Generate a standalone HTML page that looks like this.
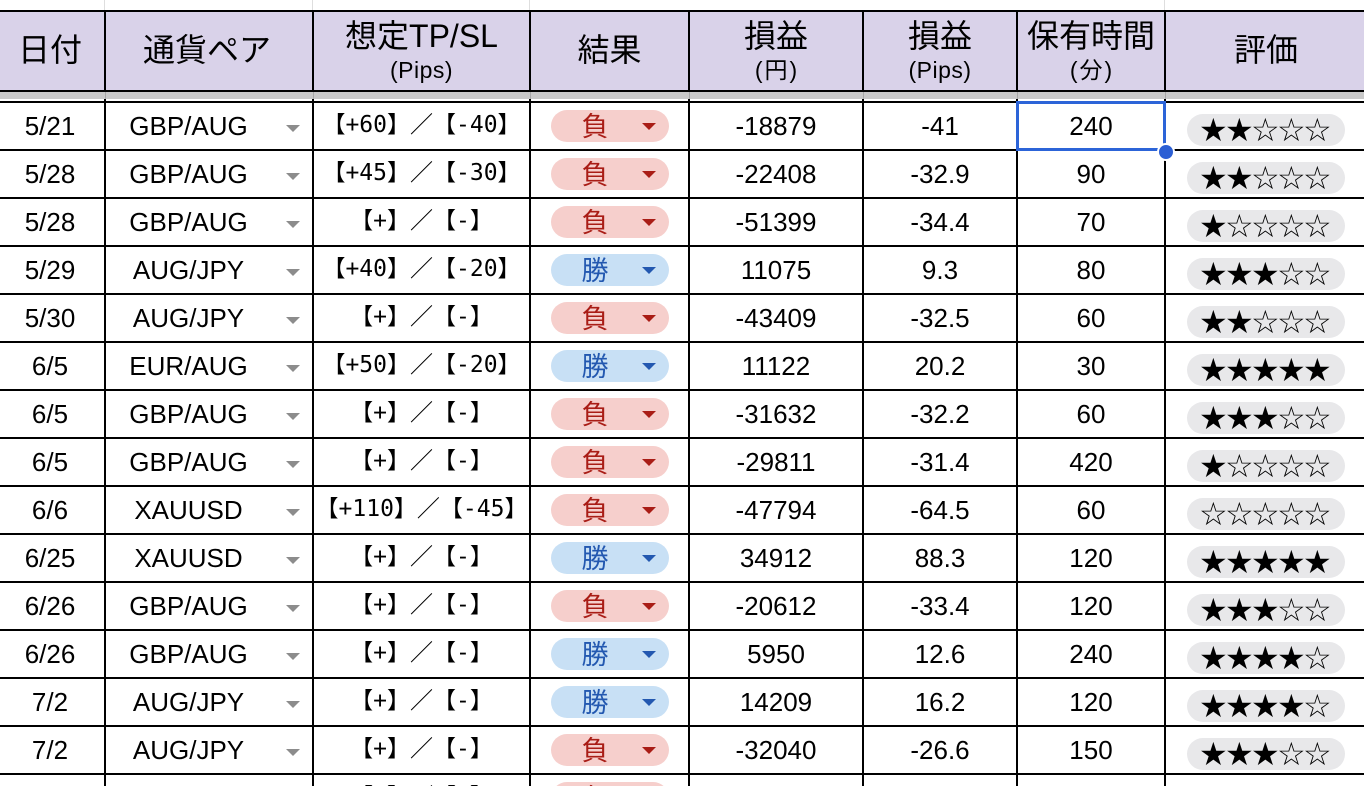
<!DOCTYPE html>
<html><head><meta charset="utf-8">
<style>
html,body{margin:0;padding:0;overflow:hidden;width:1364px;height:786px}
body{background:#fff;font-family:"Liberation Sans","Noto Sans CJK JP",sans-serif;color:#000}
#w{position:relative;width:1364px;height:786px;overflow:hidden;background:#fff}
.a{position:absolute}
.hd{left:0;top:12px;width:1364px;height:78px;background:#d9d2e9}
.hl{position:absolute;left:0;width:1364px;height:2px;background:#000}
.vl{position:absolute;width:2px;top:10px;height:776px;background:#000}
.gl{position:absolute;width:1px;top:0;height:10px;background:#dedede}
.band{position:absolute;left:0;top:92px;width:1364px;height:7px;background:#c9c9c9}
.bl{position:absolute;width:1px;top:92px;height:7px;background:#a8a8a8}
.h1{position:absolute;top:12px;height:78px;line-height:76px;font-size:32px;text-align:center;white-space:nowrap}
.t1{position:absolute;top:0;height:72px;line-height:73px;font-size:32px;text-align:center;white-space:nowrap}
.t2{position:absolute;top:50px;height:40px;line-height:40px;font-size:23px;text-align:center;white-space:nowrap}
.r{position:absolute;left:0;width:1364px;height:48px}
.c{position:absolute;top:0;height:48px;line-height:50px;font-size:26px;text-align:center;white-space:nowrap}
.dt{left:-5px;width:110px}
.cp{left:105px;width:167px}
.ar{position:absolute;left:286px;top:24px;width:0;height:0;border-left:7px solid transparent;border-right:7px solid transparent;border-top:7px solid #8c8c8c}
.tp{left:313px;width:217px;font-family:"DejaVu Sans Mono","Noto Sans CJK JP",monospace;font-size:23px;line-height:48px}
.pl{position:absolute;left:551px;top:9px;width:118px;height:32px;border-radius:16px}
.pl span{position:absolute;left:0;top:0;width:88px;text-align:center;font-family:"Noto Sans CJK JP",sans-serif;font-size:27px;line-height:30px;height:32px}
.pl b{position:absolute;left:91px;top:13px;width:0;height:0;border-left:7.5px solid transparent;border-right:7.5px solid transparent;border-top:7px solid currentColor}
.L{background:#f6cfcc;color:#a91d16}
.W{background:#c8e0f5;color:#2358b0}
.n1{left:689px;width:174px}
.n2{left:863px;width:154px}
.n3{left:1017px;width:148px}
.sp{position:absolute;left:1187px;top:13px;width:158px;height:32px;border-radius:16px;background:#e8e8ea}
.st{position:absolute;left:12px;top:0;white-space:nowrap;font-family:"DejaVu Sans",sans-serif;font-size:32px;line-height:33px;height:32px}
.st i{font-style:normal;display:inline-block;width:26px;text-align:center}
.sel{position:absolute;left:1016px;top:101px;width:150px;height:50px;box-sizing:border-box;border:3px solid #2c64d8}
.dot{position:absolute;left:1157px;top:142.5px;width:14px;height:14px;border-radius:50%;background:#2c5fd4;border:2px solid #fff}
</style></head><body><div id="w">

<div class="gl" style="left:104px"></div>
<div class="gl" style="left:312px"></div>
<div class="gl" style="left:529px"></div>
<div class="gl" style="left:1164px"></div>

<div class="a hd"></div>

<div class="vl" style="left:104px"></div>
<div class="vl" style="left:312px"></div>
<div class="vl" style="left:529px"></div>
<div class="vl" style="left:688px"></div>
<div class="vl" style="left:862px"></div>
<div class="vl" style="left:1016px"></div>
<div class="vl" style="left:1164px"></div>

<div class="hl" style="top:10px"></div>
<div class="hl" style="top:90px"></div>
<div class="band"></div>
<div class="bl" style="left:105px"></div>
<div class="bl" style="left:313px"></div>
<div class="bl" style="left:530px"></div>
<div class="bl" style="left:689px"></div>
<div class="bl" style="left:863px"></div>
<div class="bl" style="left:1017px"></div>
<div class="bl" style="left:1165px"></div>

<!-- header text -->
<div class="h1" style="left:-5px;width:110px">日付</div>
<div class="h1" style="left:103px;width:208px">通貨ペア</div>
<div class="t1" style="left:313px;width:217px">想定TP/SL</div>
<div class="t2" style="left:313px;width:217px;letter-spacing:0.5px">(Pips)</div>
<div class="h1" style="left:530px;width:159px">結果</div>
<div class="t1" style="left:689px;width:174px">損益</div>
<div class="t2" style="left:689px;width:174px;letter-spacing:2px;padding-left:2px;box-sizing:border-box">(円)</div>
<div class="t1" style="left:863px;width:154px">損益</div>
<div class="t2" style="left:863px;width:154px;letter-spacing:0.5px">(Pips)</div>
<div class="t1" style="left:1017px;width:148px">保有時間</div>
<div class="t2" style="left:1017px;width:148px;letter-spacing:2px;padding-left:2px;box-sizing:border-box">(分)</div>
<div class="h1" style="left:1165px;width:202px">評価</div>

<!-- row grid lines -->
<div class="hl" style="top:101px"></div>
<div class="hl" style="top:149px"></div>
<div class="hl" style="top:197px"></div>
<div class="hl" style="top:245px"></div>
<div class="hl" style="top:293px"></div>
<div class="hl" style="top:341px"></div>
<div class="hl" style="top:389px"></div>
<div class="hl" style="top:437px"></div>
<div class="hl" style="top:485px"></div>
<div class="hl" style="top:533px"></div>
<div class="hl" style="top:581px"></div>
<div class="hl" style="top:629px"></div>
<div class="hl" style="top:677px"></div>
<div class="hl" style="top:725px"></div>
<div class="hl" style="top:773px"></div>

<!-- rows -->
<div class="r" style="top:101px">
<div class="c dt">5/21</div><div class="c cp">GBP/AUG</div><div class="ar"></div>
<div class="c tp">【+60】／【-40】</div>
<div class="pl L"><span>負</span><b></b></div>
<div class="c n1">-18879</div><div class="c n2">-41</div><div class="c n3">240</div>
<div class="sp"><div class="st"><i>★</i><i>★</i><i>☆</i><i>☆</i><i>☆</i></div></div>
</div>

<div class="r" style="top:149px">
<div class="c dt">5/28</div><div class="c cp">GBP/AUG</div><div class="ar"></div>
<div class="c tp">【+45】／【-30】</div>
<div class="pl L"><span>負</span><b></b></div>
<div class="c n1">-22408</div><div class="c n2">-32.9</div><div class="c n3">90</div>
<div class="sp"><div class="st"><i>★</i><i>★</i><i>☆</i><i>☆</i><i>☆</i></div></div>
</div>

<div class="r" style="top:197px">
<div class="c dt">5/28</div><div class="c cp">GBP/AUG</div><div class="ar"></div>
<div class="c tp">【+】／【-】</div>
<div class="pl L"><span>負</span><b></b></div>
<div class="c n1">-51399</div><div class="c n2">-34.4</div><div class="c n3">70</div>
<div class="sp"><div class="st"><i>★</i><i>☆</i><i>☆</i><i>☆</i><i>☆</i></div></div>
</div>

<div class="r" style="top:245px">
<div class="c dt">5/29</div><div class="c cp">AUG/JPY</div><div class="ar"></div>
<div class="c tp">【+40】／【-20】</div>
<div class="pl W"><span>勝</span><b></b></div>
<div class="c n1">11075</div><div class="c n2">9.3</div><div class="c n3">80</div>
<div class="sp"><div class="st"><i>★</i><i>★</i><i>★</i><i>☆</i><i>☆</i></div></div>
</div>

<div class="r" style="top:293px">
<div class="c dt">5/30</div><div class="c cp">AUG/JPY</div><div class="ar"></div>
<div class="c tp">【+】／【-】</div>
<div class="pl L"><span>負</span><b></b></div>
<div class="c n1">-43409</div><div class="c n2">-32.5</div><div class="c n3">60</div>
<div class="sp"><div class="st"><i>★</i><i>★</i><i>☆</i><i>☆</i><i>☆</i></div></div>
</div>

<div class="r" style="top:341px">
<div class="c dt">6/5</div><div class="c cp">EUR/AUG</div><div class="ar"></div>
<div class="c tp">【+50】／【-20】</div>
<div class="pl W"><span>勝</span><b></b></div>
<div class="c n1">11122</div><div class="c n2">20.2</div><div class="c n3">30</div>
<div class="sp"><div class="st"><i>★</i><i>★</i><i>★</i><i>★</i><i>★</i></div></div>
</div>

<div class="r" style="top:389px">
<div class="c dt">6/5</div><div class="c cp">GBP/AUG</div><div class="ar"></div>
<div class="c tp">【+】／【-】</div>
<div class="pl L"><span>負</span><b></b></div>
<div class="c n1">-31632</div><div class="c n2">-32.2</div><div class="c n3">60</div>
<div class="sp"><div class="st"><i>★</i><i>★</i><i>★</i><i>☆</i><i>☆</i></div></div>
</div>

<div class="r" style="top:437px">
<div class="c dt">6/5</div><div class="c cp">GBP/AUG</div><div class="ar"></div>
<div class="c tp">【+】／【-】</div>
<div class="pl L"><span>負</span><b></b></div>
<div class="c n1">-29811</div><div class="c n2">-31.4</div><div class="c n3">420</div>
<div class="sp"><div class="st"><i>★</i><i>☆</i><i>☆</i><i>☆</i><i>☆</i></div></div>
</div>

<div class="r" style="top:485px">
<div class="c dt">6/6</div><div class="c cp">XAUUSD</div><div class="ar"></div>
<div class="c tp">【+110】／【-45】</div>
<div class="pl L"><span>負</span><b></b></div>
<div class="c n1">-47794</div><div class="c n2">-64.5</div><div class="c n3">60</div>
<div class="sp"><div class="st"><i>☆</i><i>☆</i><i>☆</i><i>☆</i><i>☆</i></div></div>
</div>

<div class="r" style="top:533px">
<div class="c dt">6/25</div><div class="c cp">XAUUSD</div><div class="ar"></div>
<div class="c tp">【+】／【-】</div>
<div class="pl W"><span>勝</span><b></b></div>
<div class="c n1">34912</div><div class="c n2">88.3</div><div class="c n3">120</div>
<div class="sp"><div class="st"><i>★</i><i>★</i><i>★</i><i>★</i><i>★</i></div></div>
</div>

<div class="r" style="top:581px">
<div class="c dt">6/26</div><div class="c cp">GBP/AUG</div><div class="ar"></div>
<div class="c tp">【+】／【-】</div>
<div class="pl L"><span>負</span><b></b></div>
<div class="c n1">-20612</div><div class="c n2">-33.4</div><div class="c n3">120</div>
<div class="sp"><div class="st"><i>★</i><i>★</i><i>★</i><i>☆</i><i>☆</i></div></div>
</div>

<div class="r" style="top:629px">
<div class="c dt">6/26</div><div class="c cp">GBP/AUG</div><div class="ar"></div>
<div class="c tp">【+】／【-】</div>
<div class="pl W"><span>勝</span><b></b></div>
<div class="c n1">5950</div><div class="c n2">12.6</div><div class="c n3">240</div>
<div class="sp"><div class="st"><i>★</i><i>★</i><i>★</i><i>★</i><i>☆</i></div></div>
</div>

<div class="r" style="top:677px">
<div class="c dt">7/2</div><div class="c cp">AUG/JPY</div><div class="ar"></div>
<div class="c tp">【+】／【-】</div>
<div class="pl W"><span>勝</span><b></b></div>
<div class="c n1">14209</div><div class="c n2">16.2</div><div class="c n3">120</div>
<div class="sp"><div class="st"><i>★</i><i>★</i><i>★</i><i>★</i><i>☆</i></div></div>
</div>

<div class="r" style="top:725px">
<div class="c dt">7/2</div><div class="c cp">AUG/JPY</div><div class="ar"></div>
<div class="c tp">【+】／【-】</div>
<div class="pl L"><span>負</span><b></b></div>
<div class="c n1">-32040</div><div class="c n2">-26.6</div><div class="c n3">150</div>
<div class="sp"><div class="st"><i>★</i><i>★</i><i>★</i><i>☆</i><i>☆</i></div></div>
</div>

<div class="r" style="top:773px">
<div class="c tp">【+】／【-】</div>
<div class="pl L"><span>負</span><b></b></div>
</div>

<div class="sel"></div>
<div class="dot"></div>

</div></body></html>
